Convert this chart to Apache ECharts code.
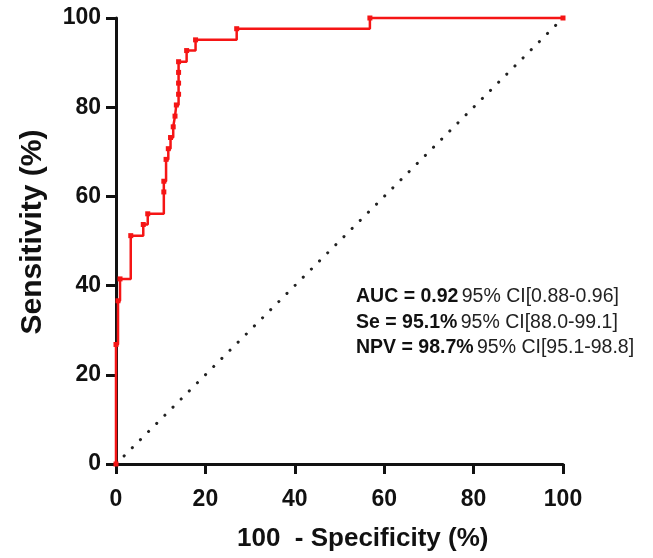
<!DOCTYPE html>
<html>
<head>
<meta charset="utf-8">
<script src="https://cdn.jsdelivr.net/npm/echarts@6/dist/echarts.min.js"></script>
<style>
  html, body { margin: 0; padding: 0; background: #fff; }
  #roc { width: 653px; height: 558px; }
</style>
</head>
<body>
<div id="roc"></div>
<script>
// ROC points: 100 - specificity (%) and sensitivity (%)
var fpr  = [0, 0, 0.45, 0.9, 3.3, 6.1, 7.1, 10.7, 10.7, 11.2, 11.7, 12.2, 12.8, 13.2, 13.5, 14.0, 14.0, 14.0, 14.0, 15.8, 17.8, 27.0, 56.8, 100];
var sens = [0, 26.8, 36.6, 41.5, 51.2, 53.7, 56.1, 61.0, 63.4, 68.3, 70.7, 73.2, 75.6, 78.0, 80.5, 82.9, 85.4, 87.8, 90.2, 92.7, 95.1, 97.6, 100, 100];
// line of no discrimination
var refX = [0, 100];
var refY = [0, 100];
var ticks = [0, 20, 40, 60, 80, 100];
var stats = [
    ['AUC = 0.92', '95% CI[0.88-0.96]'],
    ['Se = 95.1%', '95% CI[88.0-99.1]'],
    ['NPV = 98.7%', '95% CI[95.1-98.8]']
];

var FONT = '"Liberation Sans", Arial, Helvetica, sans-serif';

var rocData = fpr.map(function (x, i) { return [x, sens[i]]; });
var refData = refX.map(function (x, i) { return [x, refY[i]]; });

var statText = stats.map(function (s) {
    return '{b|' + s[0] + '} {n|' + s[1] + '}';
}).join('\n');

var myChart = echarts.init(document.getElementById('roc'));

var axisCommon = {
    type: 'value',
    min: ticks[0],
    max: ticks[ticks.length - 1],
    interval: 20,
    splitLine: { show: false },
    axisLine: { show: true, onZero: false, lineStyle: { color: '#111', width: 3 } },
    axisTick: { show: true, length: 10, lineStyle: { color: '#111', width: 3 } },
    axisLabel: { color: '#111', fontSize: 23, fontWeight: 'bold', fontFamily: FONT }
};

var option = {
    backgroundColor: '#fff',
    animation: false,
    grid: { left: 116, top: 18, right: 90, bottom: 94 },
    xAxis: Object.assign({}, axisCommon, {
        axisLabel: Object.assign({}, axisCommon.axisLabel, { margin: 24 })
    }),
    yAxis: Object.assign({}, axisCommon, {
        axisLabel: Object.assign({}, axisCommon.axisLabel, { margin: 15 })
    }),
    series: [{
        // dotted diagonal
        type: 'line',
        data: refData,
        showSymbol: false,
        silent: true,
        lineStyle: { color: '#222', width: 3, type: [0.1, 11.4], cap: 'round' },
        z: 1
    }, {
        type: 'line',
        data: rocData,
        step: 'end',
        clip: false,
        symbol: 'rect',
        symbolSize: 5,
        itemStyle: { color: '#f51515' },
        lineStyle: { color: '#f51515', width: 2.5 },
        z: 3
    }],
    graphic: [{
        type: 'text',
        left: 237,
        top: 526,
        style: {
            text: '100  - Specificity (%)',
            fill: '#111',
            font: 'bold 26px ' + FONT
        }
    }, {
        type: 'text',
        x: 33,
        y: 232,
        rotation: Math.PI / 2,
        style: {
            text: 'Sensitivity (%)',
            fill: '#111',
            font: 'bold 30px ' + FONT,
            align: 'center',
            verticalAlign: 'middle'
        }
    }, {
        type: 'text',
        left: 356,
        top: 284,
        style: {
            text: statText,
            fill: '#111',
            lineHeight: 25.5,
            rich: {
                b: { fontSize: 19.5, fontWeight: 'bold', fontFamily: FONT, fill: '#111', lineHeight: 25.5 },
                n: { fontSize: 19.5, fontFamily: FONT, fill: '#222', lineHeight: 25.5 }
            }
        }
    }]
};

myChart.setOption(option);
window.addEventListener('resize', function () {
    myChart.resize();
});
</script>
</body>
</html>
